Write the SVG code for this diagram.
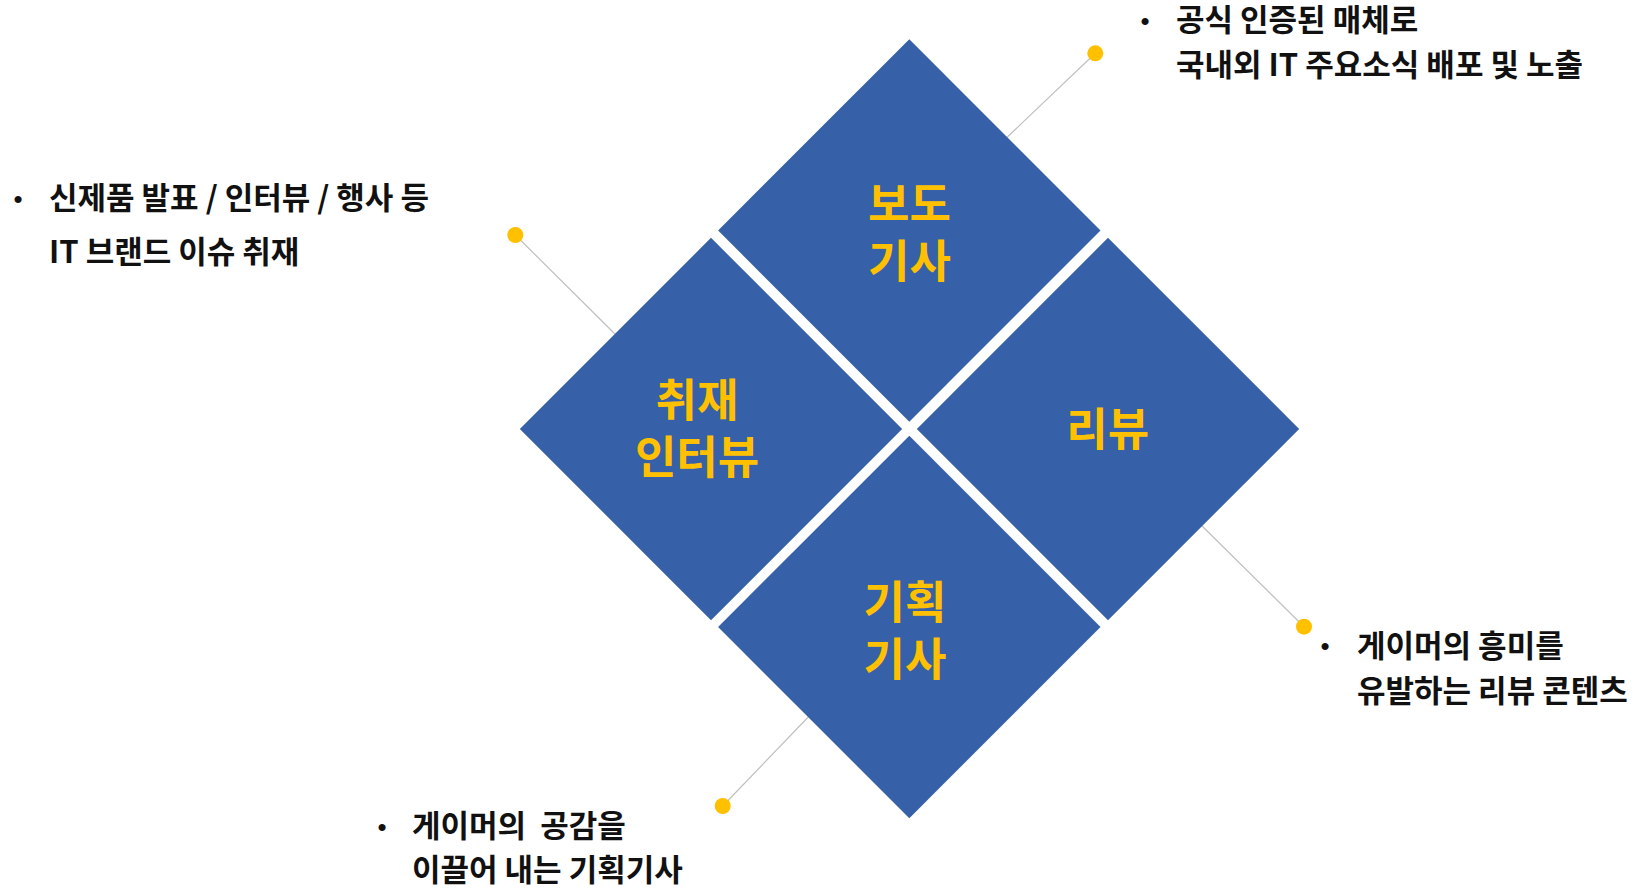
<svg xmlns="http://www.w3.org/2000/svg" width="1633" height="889" viewBox="0 0 1633 889">
<style>
.dia{fill:#3660A7;}
.lbl{font-family:"Noto Sans CJK KR","Noto Sans",sans-serif;font-weight:700;font-size:45px;fill:#FFC000;text-anchor:middle;}
.note{font-family:"Noto Sans CJK KR","Noto Sans",sans-serif;font-weight:700;font-size:31px;fill:#111;}
.bul{font-family:"Liberation Sans","Noto Sans CJK KR",sans-serif;font-size:26px;fill:#111;text-anchor:middle;}
.conn{stroke:#BFBFBF;stroke-width:1.2;fill:none;}
.dot{fill:#FFC000;}
</style>
<rect width="1633" height="889" fill="#FFFFFF"/>
<g id="connectors">
<line class="conn" x1="1095.3" y1="53.3" x2="1000" y2="144"/>
<line class="conn" x1="515.3" y1="235" x2="620" y2="339"/>
<line class="conn" x1="1304" y1="626.7" x2="1196" y2="520"/>
<line class="conn" x1="722.7" y1="806" x2="814" y2="711"/>
<circle class="dot" cx="1095.3" cy="53.3" r="8"/>
<circle class="dot" cx="515.3" cy="235" r="8"/>
<circle class="dot" cx="1304" cy="626.7" r="8"/>
<circle class="dot" cx="722.7" cy="806" r="8"/>
</g>
<g id="node-bodo">
<polygon class="dia" points="909.3,39.3 1100.5,230.5 909.3,421.7 718.1,230.5"/>
<text class="lbl"><tspan x="909.5" y="221">보도</tspan><tspan x="909.5" y="278">기사</tspan></text>
</g>
<g id="node-chwijae">
<polygon class="dia" points="711,237.8 902.2,429 711,620.2 519.8,429"/>
<text class="lbl"><tspan x="697" y="417">취재</tspan><tspan x="697" y="474">인터뷰</tspan></text>
</g>
<g id="node-review">
<polygon class="dia" points="1108,237.8 1299.2,429 1108,620.2 916.8,429"/>
<text class="lbl" x="1107.7" y="446">리뷰</text>
</g>
<g id="node-gihoek">
<polygon class="dia" points="909.3,435.8 1100.5,627 909.3,818.2 718.1,627"/>
<text class="lbl"><tspan x="905" y="619">기획</tspan><tspan x="905" y="676">기사</tspan></text>
</g>
<g id="note-bodo">
<text class="bul" x="1145" y="30">•</text>
<text class="note" x="1176" y="31">공식 인증된 매체로</text>
<text class="note" x="1176" y="76">국내외 IT 주요소식 배포 및 노출</text>
</g>
<g id="note-chwijae">
<text class="bul" x="18" y="208">•</text>
<text class="note" x="49" y="209">신제품 발표 / 인터뷰 / 행사 등</text>
<text class="note" x="49" y="263">IT 브랜드 이슈 취재</text>
</g>
<g id="note-review">
<text class="bul" x="1325" y="655">•</text>
<text class="note" x="1357" y="657">게이머의 흥미를</text>
<text class="note" x="1357" y="702">유발하는 리뷰 콘텐츠</text>
</g>
<g id="note-gihoek">
<text class="bul" x="382" y="836">•</text>
<text class="note" x="412" y="837" xml:space="preserve">게이머의  공감을</text>
<text class="note" x="412" y="881">이끌어 내는 기획기사</text>
</g>
</svg>
